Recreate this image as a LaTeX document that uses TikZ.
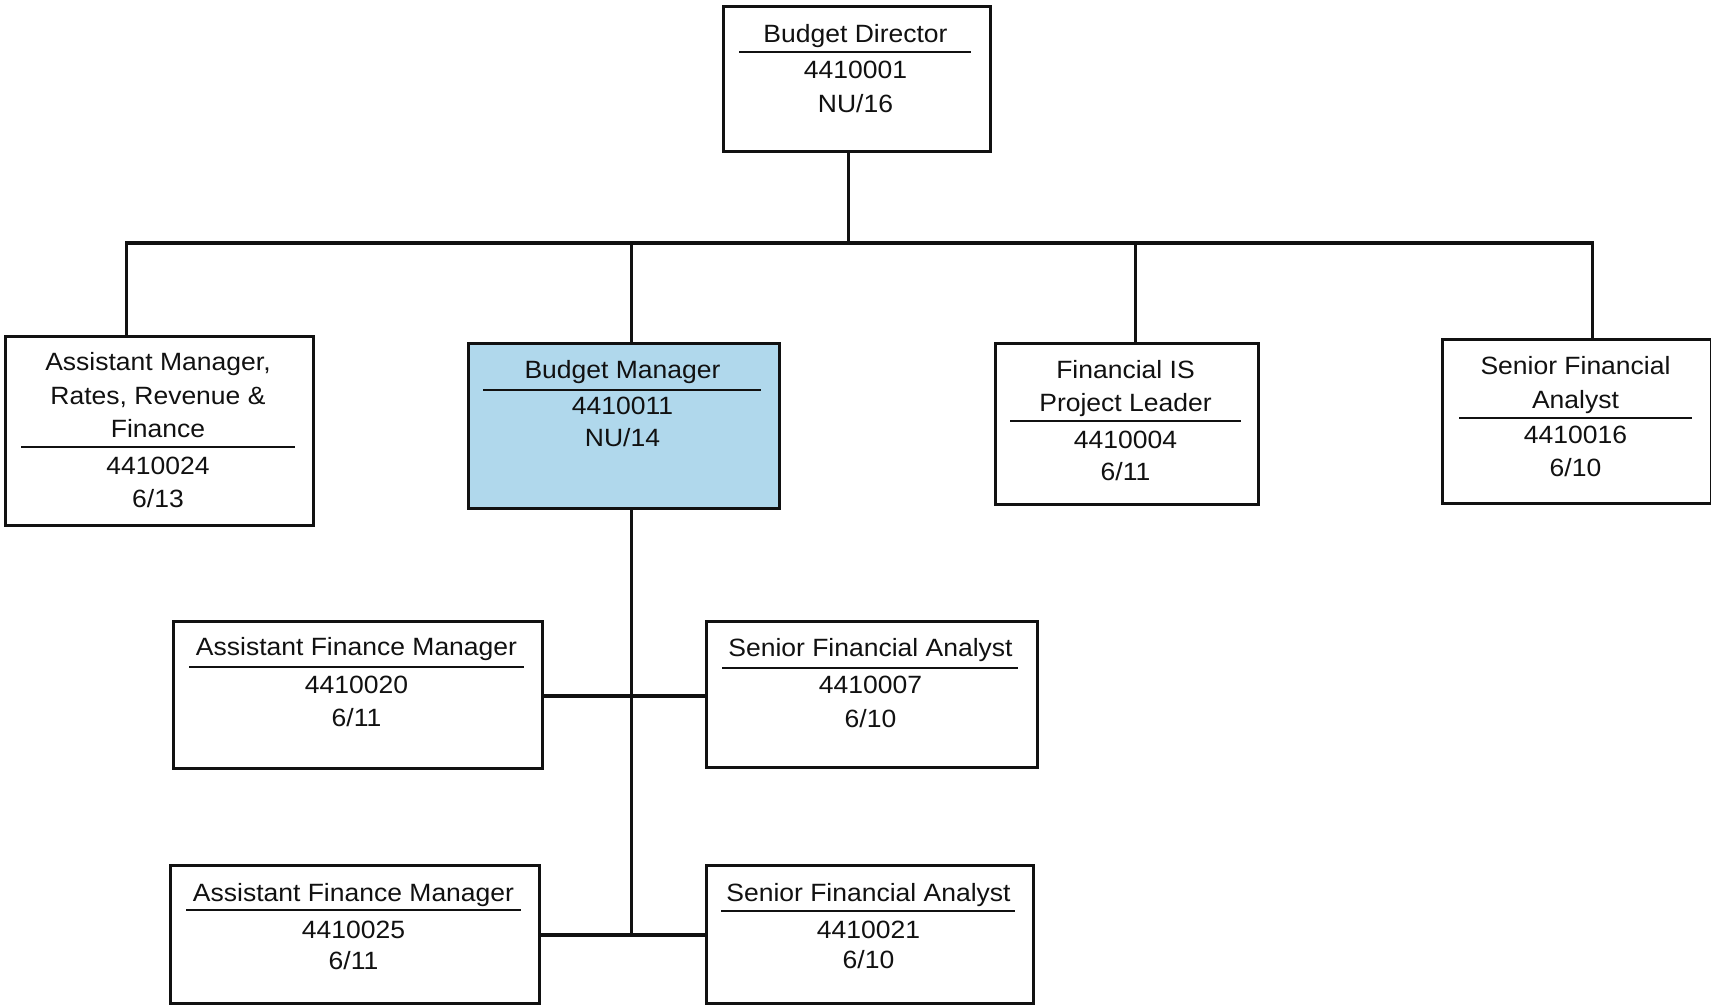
\documentclass[tikz,border=0pt]{standalone}
\usepackage{fontspec}
\setmainfont{Liberation Sans}[FakeStretch=1.06]
\usetikzlibrary{calc}
\definecolor{ink}{HTML}{111111}
\definecolor{mgrblue}{HTML}{B0D8EC}
\tikzset{
  box/.style={draw=ink, line width=2.8pt, anchor=north west, inner sep=0pt},
  hilite/.style={box, fill=mgrblue},
  txt/.style={inner sep=0pt, anchor=base, text=ink, font=\fontsize{25}{30}\selectfont},
  rule/.style={draw=ink, line width=1.6pt},
  wire/.style={draw=ink, line width=3.2pt}
}
\begin{document}
\begin{tikzpicture}[x=1pt, y=-1pt]
\useasboundingbox (0,0) rectangle (1711,1005);

% Budget Director
\node[box, minimum width=267pt, minimum height=145pt] (bd) at (722,5) {};
\draw[rule] (739,52) -- (971,52);
\node[txt] (bd1) at (855.5,42) {Budget Director};
\node[txt] (bd2) at (855.5,78) {4410001};
\node[txt] (bd3) at (855.5,112) {NU/16};

% Assistant Manager, Rates, Revenue & Finance
\node[box, minimum width=308pt, minimum height=189pt] (am) at (4,335) {};
\draw[rule] (21,447) -- (295,447);
\node[txt] (am1) at (158,370) {Assistant Manager,};
\node[txt] (am2) at (158,404) {Rates, Revenue \&};
\node[txt] (am3) at (158,437) {Finance};
\node[txt] (am4) at (158,474) {4410024};
\node[txt] (am5) at (158,507) {6/13};

% Budget Manager
\node[hilite, minimum width=311pt, minimum height=165pt] (bm) at (467,342) {};
\draw[rule] (483,390) -- (761,390);
\node[txt] (bm1) at (622.5,378) {Budget Manager};
\node[txt] (bm2) at (622.5,414) {4410011};
\node[txt] (bm3) at (622.5,446) {NU/14};

% Financial IS Project Leader
\node[box, minimum width=263pt, minimum height=161pt] (fis) at (994,342) {};
\draw[rule] (1010,421) -- (1241,421);
\node[txt] (fis1) at (1125.5,378) {Financial IS};
\node[txt] (fis2) at (1125.5,411) {Project Leader};
\node[txt] (fis3) at (1125.5,448) {4410004};
\node[txt] (fis4) at (1125.5,480) {6/11};

% Senior Financial Analyst (top row)
\node[box, minimum width=269pt, minimum height=164pt] (sfa) at (1441,338) {};
\draw[rule] (1459,418) -- (1692,418);
\node[txt] (sfa1t) at (1575.5,374) {Senior Financial};
\node[txt] (sfa2t) at (1575.5,408) {Analyst};
\node[txt] (sfa3t) at (1575.5,443) {4410016};
\node[txt] (sfa4t) at (1575.5,476) {6/10};

% Assistant Finance Manager 4410020
\node[box, minimum width=369pt, minimum height=147pt] (afa) at (172,620) {};
\draw[rule] (189,667) -- (524,667);
\node[txt] (afa1) at (356.5,655) {Assistant Finance Manager};
\node[txt] (afa2) at (356.5,693) {4410020};
\node[txt] (afa3) at (356.5,726) {6/11};

% Senior Financial Analyst 4410007
\node[box, minimum width=331pt, minimum height=146pt] (sfb) at (705,620) {};
\draw[rule] (722,668) -- (1018,668);
\node[txt] (sfb1) at (870.5,656) {Senior Financial Analyst};
\node[txt] (sfb2) at (870.5,693) {4410007};
\node[txt] (sfb3) at (870.5,727) {6/10};

% Assistant Finance Manager 4410025
\node[box, minimum width=369pt, minimum height=138pt] (afb) at (169,864) {};
\draw[rule] (186,910) -- (521,910);
\node[txt] (afb1) at (353.5,901) {Assistant Finance Manager};
\node[txt] (afb2) at (353.5,938) {4410025};
\node[txt] (afb3) at (353.5,969) {6/11};

% Senior Financial Analyst 4410021
\node[box, minimum width=327pt, minimum height=138pt] (sfc) at (705,864) {};
\draw[rule] (721,911) -- (1015,911);
\node[txt] (sfc1) at (868.5,901) {Senior Financial Analyst};
\node[txt] (sfc2) at (868.5,938) {4410021};
\node[txt] (sfc3) at (868.5,968) {6/10};

% connection points on the box edges
\coordinate (bdB) at ($(bd.south west)!0.468!(bd.south east)$);
\coordinate (amT) at ($(am.north west)!0.393!(am.north east)$);
\coordinate (bmT) at ($(bm.north west)!0.524!(bm.north east)$);
\coordinate (bmB) at ($(bm.south west)!0.524!(bm.south east)$);
\coordinate (fisT) at ($(fis.north west)!0.532!(fis.north east)$);
\coordinate (sfaT) at ($(sfa.north west)!0.558!(sfa.north east)$);
\coordinate (bus) at (847,243);
\coordinate (tee1) at (630,696);
\coordinate (tee2) at (630,935);

% reporting lines
\draw[wire] (bdB) -- (bdB |- bus);
\draw[wire] (amT) -- (amT |- bus) -- (sfaT |- bus) -- (sfaT);
\draw[wire] (bmT) -- (bmT |- bus);
\draw[wire] (fisT) -- (fisT |- bus);
\draw[wire] (bmB) -- (bmB |- tee2);
\draw[wire] (afa.east |- tee1) -- (sfb.west |- tee1);
\draw[wire] (afb.east |- tee2) -- (sfc.west |- tee2);
\end{tikzpicture}
\end{document}
